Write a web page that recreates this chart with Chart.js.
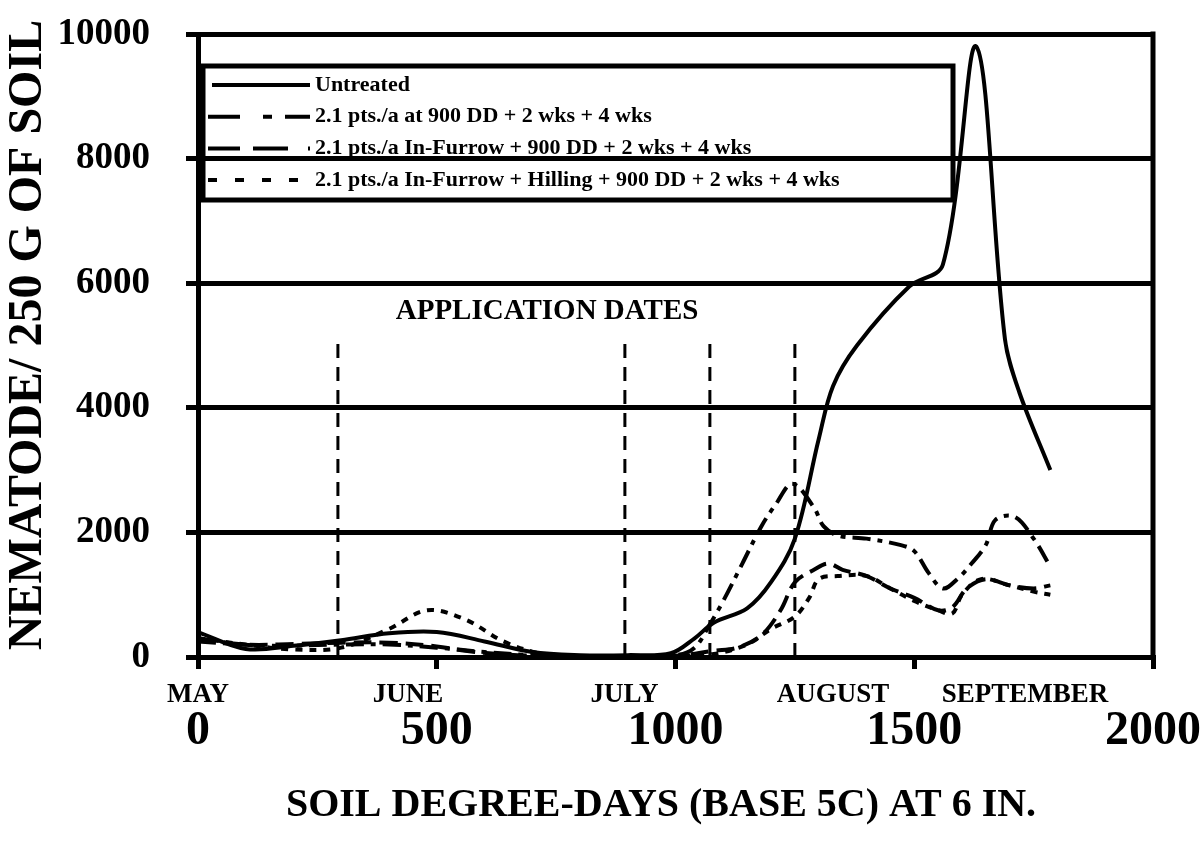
<!DOCTYPE html>
<html>
<head>
<meta charset="utf-8">
<title>Nematodes per 250 g of soil</title>
<script src="https://cdn.jsdelivr.net/npm/chart.js@4.4.1/dist/chart.umd.min.js"></script>
<style>
  body { margin: 0; background: #fff; }
</style>
</head>
<body>
<canvas id="nemaChart" width="1202" height="844"></canvas>
<script>
// series (soil degree-days, nematodes / 250 g)
let seriesNames = [
    "Untreated",
    "2.1 pts./a at 900 DD + 2 wks + 4 wks",
    "2.1 pts./a In-Furrow + 900 DD + 2 wks + 4 wks",
    "2.1 pts./a In-Furrow + Hilling + 900 DD + 2 wks + 4 wks"
];

let untreatedDD  = [0, 100, 200, 300, 400, 500, 600, 700, 800, 900, 990, 1040, 1080, 1150, 1200, 1250, 1300, 1330, 1380, 1490, 1560, 1630, 1690, 1720, 1785];
let untreatedVal = [400, 130, 180, 270, 380, 400, 250, 80, 30, 30, 60, 300, 550, 780, 1200, 1900, 3500, 4350, 5000, 5950, 6300, 9800, 5100, 4250, 3000];

let dd900DD  = [0, 150, 300, 400, 500, 600, 700, 800, 1000, 1040, 1070, 1100, 1140, 1180, 1210, 1245, 1290, 1310, 1340, 1400, 1470, 1500, 1530, 1560, 1590, 1620, 1650, 1670, 1710, 1750, 1785];
let dd900Val = [250, 180, 200, 200, 150, 80, 30, 10, 30, 150, 500, 900, 1500, 2100, 2450, 2780, 2400, 2100, 1950, 1900, 1800, 1700, 1350, 1100, 1250, 1500, 1800, 2200, 2250, 1900, 1450];

let furrowDD  = [0, 100, 200, 300, 400, 500, 560, 640, 720, 1000, 1080, 1130, 1180, 1220, 1250, 1290, 1320, 1350, 1400, 1450, 1500, 1550, 1580, 1610, 1650, 1700, 1750, 1785];
let furrowVal = [300, 200, 210, 230, 230, 170, 100, 40, 20, 20, 100, 150, 350, 750, 1200, 1400, 1500, 1400, 1300, 1100, 950, 750, 800, 1100, 1250, 1150, 1100, 1150];

let hillingDD  = [0, 100, 200, 300, 400, 480, 560, 640, 720, 800, 1000, 1080, 1150, 1200, 1250, 1280, 1300, 1340, 1400, 1450, 1500, 1550, 1580, 1600, 1640, 1700, 1750, 1785];
let hillingVal = [300, 200, 120, 150, 450, 750, 600, 250, 50, 0, 20, 50, 200, 450, 650, 950, 1250, 1300, 1300, 1100, 900, 750, 700, 1000, 1250, 1150, 1050, 1000];

// application dates (vertical dashed lines)
let appDD = [293, 894, 1072, 1250];
let appTop = 5150;

let monthNames = ["MAY", "JUNE", "JULY", "AUGUST", "SEPTEMBER"];
let monthDD = [0, 440, 893, 1330, 1732];

let xTicks = [0, 500, 1000, 1500, 2000];
let yTicks = [0, 2000, 4000, 6000, 8000, 10000];

let xTitle = "SOIL DEGREE-DAYS (BASE 5C) AT 6 IN.";
let yTitle = "NEMATODE/ 250 G OF SOIL";

let serif = "'Liberation Serif', 'Times New Roman', serif";

function toPoints(xs, ys){
    return xs.map((x, i) => ({x: x, y: ys[i]}));
}

let curveDashes = [[], [18, 7, 5, 7], [18, 8], [7, 7]];
let legendDashes = [[], [32, 23, 9, 13, 25, 20], [32, 13, 35, 20], [9, 18]];

let datasets = [
    {label: seriesNames[0], data: toPoints(untreatedDD, untreatedVal)},
    {label: seriesNames[1], data: toPoints(dd900DD, dd900Val)},
    {label: seriesNames[2], data: toPoints(furrowDD, furrowVal)},
    {label: seriesNames[3], data: toPoints(hillingDD, hillingVal)}
].map((d, i) => Object.assign(d, {
    borderColor: "#000",
    borderWidth: 4,
    borderDash: curveDashes[i],
    pointRadius: 0,
    tension: 0.35,
    fill: false
}));

appDD.forEach(d => {
    datasets.push({
        label: "app",
        data: [{x: d, y: 0}, {x: d, y: appTop}],
        borderColor: "#000",
        borderWidth: 3,
        borderDash: [14, 9],
        pointRadius: 0,
        tension: 0
    });
});

const extras = {
    id: "extras",
    afterDraw(chart){
        let ctx = chart.ctx;
        let xs = chart.scales.x, ys = chart.scales.y;
        let area = chart.chartArea;

        ctx.save();
        ctx.strokeStyle = "#000";
        ctx.fillStyle = "#000";

        // right border of plot
        ctx.lineWidth = 5;
        ctx.beginPath();
        ctx.moveTo(area.right, area.top - 2.5);
        ctx.lineTo(area.right, area.bottom + 2.5);
        ctx.stroke();

        // month names under the axis
        ctx.font = "bold 27px " + serif;
        ctx.textAlign = "center";
        ctx.textBaseline = "middle";
        monthNames.forEach((m, i) => {
            ctx.fillText(m, xs.getPixelForValue(monthDD[i]), area.bottom + 38);
        });

        ctx.font = "bold 29px " + serif;
        ctx.fillText("APPLICATION DATES", xs.getPixelForValue(731), ys.getPixelForValue(5540));

        // axis titles
        ctx.font = "bold 40px " + serif;
        ctx.fillText(xTitle, area.left + 463, area.bottom + 149);

        ctx.save();
        ctx.translate(29, area.top + 301);
        ctx.rotate(-Math.PI / 2);
        ctx.font = "bold 48px " + serif;
        ctx.fillText(yTitle, 0, 0);
        ctx.restore();

        // legend box
        let lx = area.left + 5, ly = area.top + 32;
        ctx.lineWidth = 5;
        ctx.strokeRect(lx, ly, 750, 134);

        ctx.font = "bold 22px " + serif;
        ctx.textAlign = "left";
        seriesNames.forEach((name, i) => {
            let y = ly + 19 + i * 31.7;
            ctx.lineWidth = 4;
            ctx.setLineDash(legendDashes[i]);
            ctx.beginPath();
            ctx.moveTo(lx + (i === 0 ? 9 : 5), y);
            ctx.lineTo(lx + 107, y);
            ctx.stroke();
            ctx.setLineDash([]);
            ctx.fillText(name, lx + 112, y);
        });
        ctx.restore();
    }
};

new Chart(document.getElementById("nemaChart"), {
    type: "line",
    data: {datasets: datasets},
    plugins: [extras],
    options: {
        responsive: false,
        animation: false,
        layout: {padding: {top: 34, right: 49, left: 0, bottom: 0}},
        plugins: {
            legend: {display: false},
            tooltip: {enabled: false}
        },
        scales: {
            x: {
                type: "linear",
                min: 0,
                max: 2000,
                afterBuildTicks: s => { s.ticks = xTicks.map(v => ({value: v})); },
                afterFit: s => { s.height = 187; s.paddingLeft = 0; s.paddingRight = 0; },
                grid: {drawOnChartArea: false, color: "#000", lineWidth: 5, tickLength: 12},
                border: {color: "#000", width: 5},
                ticks: {
                    color: "#000",
                    autoSkip: false,
                    maxRotation: 0,
                    padding: 34,
                    font: {family: serif, size: 48, weight: "bold"},
                    callback: v => String(v)
                }
            },
            y: {
                min: 0,
                max: 10000,
                afterBuildTicks: s => { s.ticks = yTicks.map(v => ({value: v})); },
                afterFit: s => { s.width = 198; s.paddingTop = 0; s.paddingBottom = 0; },
                grid: {color: "#000", lineWidth: 5, tickLength: 12},
                border: {color: "#000", width: 5},
                ticks: {
                    color: "#000",
                    padding: 36,
                    font: {family: serif, size: 37, weight: "bold"},
                    callback: v => String(v)
                }
            }
        }
    }
});
</script>
</body>
</html>
